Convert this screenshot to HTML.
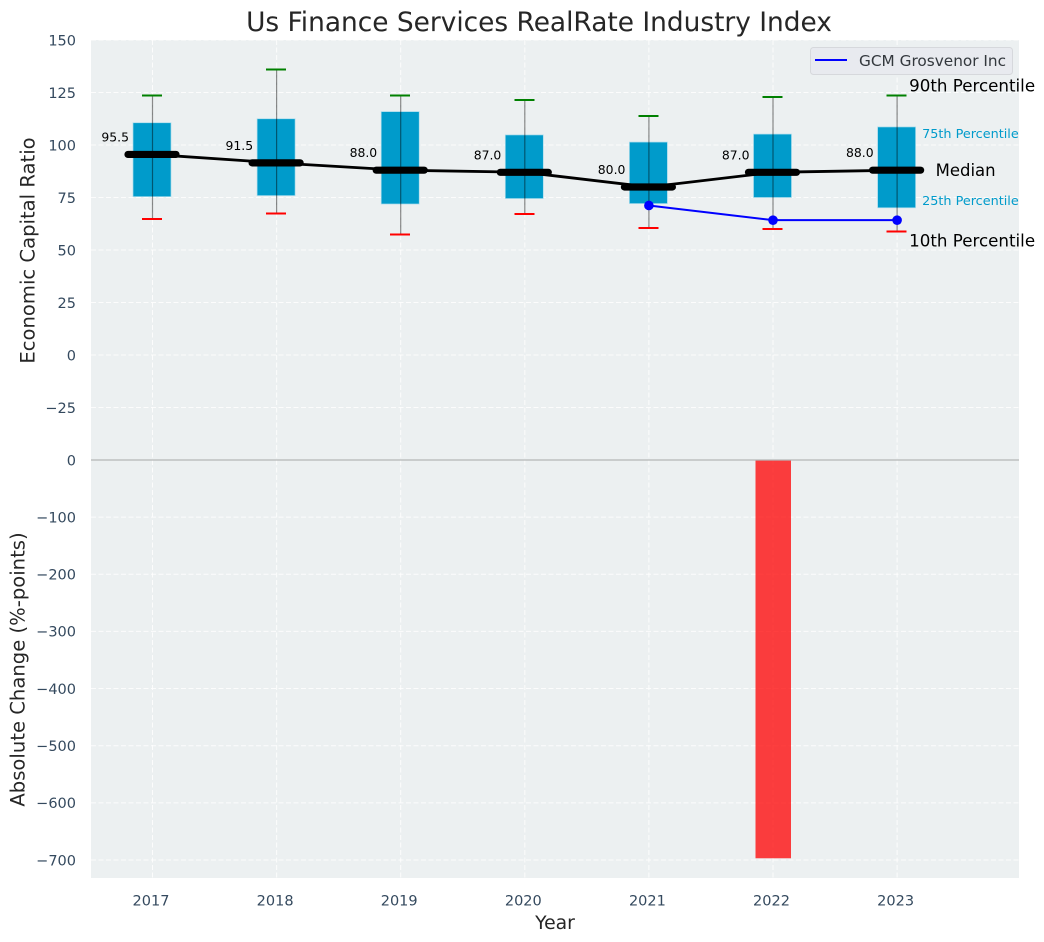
<!DOCTYPE html>
<html lang="en">
<head>
<meta charset="utf-8">
<title>Us Finance Services RealRate Industry Index</title>
<style>
html,body{margin:0;padding:0;background:#fff;}
svg{display:block;font-family:"DejaVu Sans","Liberation Sans",sans-serif;}
</style>
</head>
<body>
<svg id="chart" xmlns="http://www.w3.org/2000/svg" width="1044" height="942" viewBox="0 0 1044 942"></svg>
<script>
const years = [2017, 2018, 2019, 2020, 2021, 2022, 2023];
const p90 = [123.5, 135.9, 123.5, 121.4, 113.8, 122.9, 123.5];
const p75 = [110.6, 112.5, 115.9, 104.8, 101.4, 105.2, 108.6];
const medians = [95.5, 91.5, 88.0, 87.0, 80.0, 87.0, 88.0];
const p25 = [75.4, 75.9, 71.9, 74.5, 72.1, 75.0, 70.1];
const p10 = [64.8, 67.3, 57.3, 67.1, 60.5, 60.0, 58.7];
const companyYears = [2021, 2022, 2023];
const companyValues = [71.2, 64.2, 64.2];
const changeYears = [2022];
const changeValues = [-697];
const topTicks = [150, 125, 100, 75, 50, 25, 0, -25];
const bottomTicks = [0, -100, -200, -300, -400, -500, -600, -700];

const NS = 'http://www.w3.org/2000/svg';
const svg = document.getElementById('chart');
const X = y => 152.5 + (y - 2017) * 124.1;
const Y1 = v => 355 - v * 2.1;
const Y2 = v => 460 - v * 0.5714;
const L = 91, R = 1019;

function mk(tag, attrs, text) {
  const el = document.createElementNS(NS, tag);
  for (const k in attrs) el.setAttribute(k, attrs[k]);
  if (text !== undefined) el.textContent = text;
  svg.appendChild(el);
  return el;
}
const fmt = v => String(v).replace('-', '\u2212');
let el;

el = mk('rect', {x: L, y: 40, width: R - L, height: 420, fill: '#ecf0f1'});


el = mk('rect', {x: L, y: 460, width: R - L, height: 418, fill: '#ecf0f1'});



/* grid */
topTicks.forEach(t => {
  el = mk('line', {x1: L, x2: R, y1: Y1(t), y2: Y1(t), stroke: '#fff', 'stroke-width': 1, 'stroke-dasharray': '5 2.5', opacity: .85});
  
  
});
bottomTicks.slice(1).forEach(t => {
  el = mk('line', {x1: L, x2: R, y1: Y2(t), y2: Y2(t), stroke: '#fff', 'stroke-width': 1, 'stroke-dasharray': '5 2.5', opacity: .85});
  
  
});
years.forEach(y => {
  el = mk('line', {x1: X(y), x2: X(y), y1: 40, y2: 878, stroke: '#fff', 'stroke-width': 1, 'stroke-dasharray': '5 2.5', opacity: .85});
  
  
});

/* boxes */
years.forEach((y, i) => {
  const cx = X(y);
  el = mk('rect', {x: cx - 19.5, y: Y1(p75[i]), width: 38, height: Y1(p25[i]) - Y1(p75[i]), fill: '#009bcb', stroke: '#a9dcec', 'stroke-width': .7});
  
  
});
/* median connector */
el = mk('polyline', {points: years.map((y, i) => X(y) + ',' + Y1(medians[i])).join(' '), fill: 'none', stroke: '#000', 'stroke-width': 2.8});


/* whiskers */
years.forEach((y, i) => {
  const cx = X(y);
  el = mk('line', {x1: cx, x2: cx, y1: Y1(p90[i]), y2: Y1(p10[i]), stroke: '#000', 'stroke-opacity': .45, 'stroke-width': 1.2});
  
  
  el = mk('line', {x1: cx - 10.5, x2: cx + 9.5, y1: Y1(p90[i]), y2: Y1(p90[i]), stroke: '#008000', 'stroke-width': 2, 'shape-rendering': 'crispEdges'});
  
  
  el = mk('line', {x1: cx - 10.5, x2: cx + 9.5, y1: Y1(p10[i]), y2: Y1(p10[i]), stroke: '#ff0000', 'stroke-width': 2, 'shape-rendering': 'crispEdges'});
  
  
});
/* medians */
years.forEach((y, i) => {
  const cx = X(y);
  el = mk('line', {x1: cx - 24.5, x2: cx + 23.5, y1: Y1(medians[i]), y2: Y1(medians[i]), stroke: '#000', 'stroke-width': 7.2, 'stroke-linecap': 'round'});
  
  
  el = mk('text', {x: cx - 23.5, y: Y1(medians[i]) - 13, 'text-anchor': 'end', 'font-size': 12.4, fill: '#000'}, medians[i].toFixed(1));
  
  
});
/* company line */
el = mk('polyline', {points: companyYears.map((y, i) => X(y) + ',' + Y1(companyValues[i])).join(' '), fill: 'none', stroke: '#0000ff', 'stroke-width': 2});


companyYears.forEach((y, i) => {
  el = mk('circle', {cx: X(y), cy: Y1(companyValues[i]), r: 4.8, fill: '#0000ff'});
  
  
});

/* change bars */
changeYears.forEach((y, i) => {
  el = mk('rect', {x: X(y) - 17.5, y: Y2(0), width: 35.5, height: Y2(changeValues[i]) - Y2(0), fill: '#ff0000', 'fill-opacity': .75});
  
  
});
el = mk('line', {x1: L, x2: R, y1: 460, y2: 460, stroke: '#b4b6b7', 'stroke-width': 1.3});



/* tick labels */
topTicks.forEach(t => {
  el = mk('text', {x: 76, y: Y1(t) + 5.3, 'text-anchor': 'end', 'font-size': 14.5, fill: '#34495e'}, fmt(t));
  
  
});
bottomTicks.forEach(t => {
  el = mk('text', {x: 76, y: Y2(t) + 5.3, 'text-anchor': 'end', 'font-size': 14.5, fill: '#34495e'}, fmt(t));
  
  
});
years.forEach(y => {
  el = mk('text', {x: X(y) - 1.5, y: 905.5, 'text-anchor': 'middle', 'font-size': 14.5, fill: '#34495e'}, y);
  
  
});

/* titles */
el = mk('text', {x: 539, y: 31, 'text-anchor': 'middle', 'font-size': 26.4, fill: '#262626'}, 'Us Finance Services RealRate Industry Index');


el = mk('text', {x: 555, y: 929, 'text-anchor': 'middle', 'font-size': 18.8, fill: '#262626'}, 'Year');


el = mk('text', {transform: 'translate(34.5 250.5) rotate(-90)', 'text-anchor': 'middle', 'font-size': 19.6, fill: '#262626'}, 'Economic Capital Ratio');


el = mk('text', {transform: 'translate(24.5 669.5) rotate(-90)', 'text-anchor': 'middle', 'font-size': 19.6, fill: '#262626'}, 'Absolute Change (%-points)');



/* percentile annotations, anchored to the last year */
const last = years.length - 1;
const lx = X(years[last]);
el = mk('text', {x: lx + 12, y: Y1(p90[last]) - 4, 'font-size': 16.7, fill: '#000'}, '90th Percentile');


el = mk('text', {x: lx + 25, y: Y1(p75[last]) + 11, 'font-size': 12.8, fill: '#009bcb'}, '75th Percentile');


el = mk('text', {x: lx + 38.5, y: Y1(medians[last]) + 6, 'font-size': 16.5, fill: '#000'}, 'Median');


el = mk('text', {x: lx + 25, y: Y1(p25[last]) - 3, 'font-size': 12.8, fill: '#009bcb'}, '25th Percentile');


el = mk('text', {x: lx + 12, y: Y1(p10[last]) + 15, 'font-size': 16.7, fill: '#000'}, '10th Percentile');



/* legend */
el = mk('rect', {x: 810.5, y: 47.5, width: 202, height: 27, rx: 3, fill: '#e8eaef', stroke: '#d6d8dc', 'stroke-width': 1});


el = mk('line', {x1: 815, x2: 847, y1: 60, y2: 60, stroke: '#0000ff', 'stroke-width': 2});


el = mk('text', {x: 859, y: 66, 'font-size': 15.3, fill: '#33383d'}, 'GCM Grosvenor Inc');


</script>
</body>
</html>
